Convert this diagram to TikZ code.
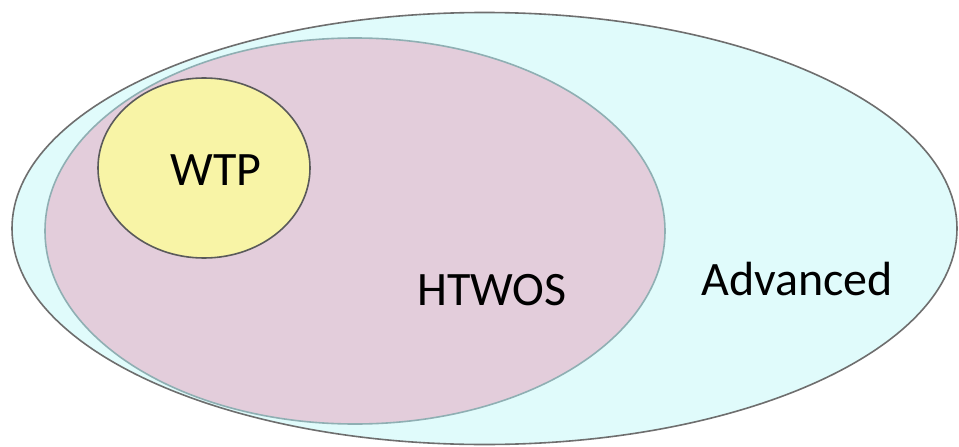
\documentclass[tikz,border=0pt]{standalone}
\usepackage{fontspec}
\setmainfont{Carlito}
\definecolor{advfill}{HTML}{E0FBFB}
\definecolor{advline}{HTML}{6E6E6E}
\definecolor{htfill}{HTML}{E3CDDB}
\definecolor{htline}{HTML}{8FAFB3}
\definecolor{wtpfill}{HTML}{F8F4A6}
\definecolor{wtpline}{HTML}{5A5A5A}
\tikzset{
  setshape/.style={line width=1.6pt},
  setlabel/.style={font=\fontsize{48}{50}\selectfont, text=black, inner sep=0pt, anchor=base}
}
\begin{document}
\begin{tikzpicture}[x=1pt,y=-1pt]
\useasboundingbox (0,0) rectangle (959,447);
\fill[white] (0,0) rectangle (959,447);
\draw[setshape, draw=advline, fill=advfill] (484.5,228.5) ellipse [x radius=472.5pt, y radius=216pt];
\draw[setshape, draw=htline, fill=htfill] (355,231) ellipse [x radius=310pt, y radius=193pt];
\draw[setshape, draw=wtpline, fill=wtpfill] (204,168) ellipse [x radius=106pt, y radius=90pt];
\node[setlabel] (wtp) at (216,185) {WTP};
\node[setlabel] (htwos) at (492,305) {HTWOS};
\node[setlabel] (adv) at (797,295) {Advanced};
\end{tikzpicture}
\end{document}
